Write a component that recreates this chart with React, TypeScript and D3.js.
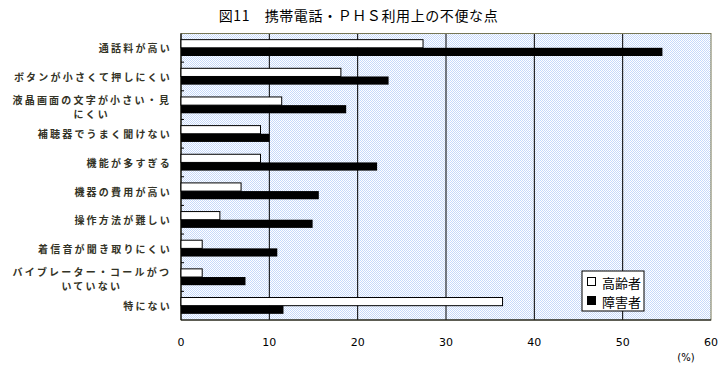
import React from 'react';
import * as d3 from 'd3';

const categories = [
  '通話料が高い',
  'ボタンが小さくて押しにくい',
  '液晶画面の文字が小さい・見\nにくい',
  '補聴器でうまく聞けない',
  '機能が多すぎる',
  '機器の費用が高い',
  '操作方法が難しい',
  '着信音が聞き取りにくい',
  'バイブレーター・コールがつ\nいていない',
  '特にない',
];
const elderly = [27.4, 18.1, 11.4, 9.0, 9.0, 6.8, 4.4, 2.4, 2.4, 36.4];
const disabled = [54.5, 23.5, 18.7, 10.0, 22.2, 15.6, 14.9, 10.9, 7.3, 11.6];
const xTicks = [0, 10, 20, 30, 40, 50, 60];
const seriesNames = ['高齢者', '障害者'];

const W = 720;
const H = 369;
const left = 181;
const right = 711;
const top = 33.5;
const bottom = 320;

const labelFont = '"Noto Sans CJK JP", sans-serif';
const labelSize = 10;
const labelSpacing = 2.2;

const App: React.FC = () => {
  const x = d3.scaleLinear().domain([0, 60]).range([left, right]);
  const y = d3.scaleBand<number>()
    .domain(d3.range(categories.length))
    .range([top, bottom])
    .paddingInner(0.43)
    .paddingOuter(0.215);
  const step = y.step();
  const barH = y.bandwidth() / 2;

  return (
    <svg width={W} height={H} style={{ position: 'absolute', left: 0, top: 0, background: '#fff' }}>
      <defs>
        <pattern id="dots" width={2} height={2} patternUnits="userSpaceOnUse">
          <rect width={2} height={2} fill="#fff" />
          <rect x={0} y={0} width={1} height={1} fill="#c6d9fa" />
          <rect x={1} y={1} width={1} height={1} fill="#c6d9fa" />
        </pattern>
      </defs>

      <text x={358.5} y={21} textAnchor="middle" fontFamily={labelFont} fontSize={14} letterSpacing={0.6} fill="#000">
        図11　携帯電話・ＰＨＳ利用上の不便な点
      </text>

      <rect x={left} y={top} width={right - left} height={bottom - top} fill="url(#dots)" />

      {xTicks.slice(1, -1).map(t => (
        <line key={t} x1={x(t)} x2={x(t)} y1={top} y2={bottom} stroke="#000" strokeWidth={1} />
      ))}

      <rect x={left} y={top} width={right - left} height={bottom - top} fill="none" stroke="#777755" strokeWidth={1} />
      <line x1={left} x2={left} y1={top} y2={bottom} stroke="#000" strokeWidth={1.2} />
      <line x1={left} x2={right} y1={bottom} y2={bottom} stroke="#000" strokeWidth={1} />

      {d3.range(1, categories.length).map(i => (
        <line key={i} x1={left} x2={left + 3} y1={top + i * step} y2={top + i * step} stroke="#000" />
      ))}

      {categories.map((c, i) => {
        const y0 = y(i) as number;
        return (
          <g key={c}>
            <rect x={x(0)} y={y0} width={x(elderly[i]) - x(0)} height={barH} fill="#fff" stroke="#000" strokeWidth={1} />
            <rect x={x(0)} y={y0 + barH} width={x(disabled[i]) - x(0)} height={barH} fill="#000" />
          </g>
        );
      })}

      {categories.map((c, i) => {
        const cy = top + (i + 0.5) * step;
        const lines = c.split('\n');
        const common = {
          fontFamily: labelFont,
          fontSize: labelSize,
          fontWeight: 700,
          letterSpacing: labelSpacing,
          fill: '#333326',
          dominantBaseline: 'central' as const,
        };
        if (lines.length === 1) {
          return (
            <text key={c} x={172} y={cy} textAnchor="end" {...common}>{c}</text>
          );
        }
        const maxLen = d3.max(lines, l => l.length) as number;
        const cx = 170 - (maxLen * (labelSize + labelSpacing)) / 2;
        return (
          <g key={c}>
            {lines.map((l, j) => (
              <text key={j} x={cx + labelSpacing / 2} y={cy - 6 + j * 14.6} textAnchor="middle" {...common}>{l}</text>
            ))}
          </g>
        );
      })}

      {xTicks.map(t => (
        <text key={t} x={x(t)} y={346} textAnchor="middle" fontFamily='"DejaVu Sans", sans-serif' fontSize={11} fill="#000">
          {t}
        </text>
      ))}
      <text x={686} y={361} textAnchor="middle" fontFamily='"DejaVu Sans", sans-serif' fontSize={10} fill="#000">(%)</text>

      <g>
        <rect x={582} y={271} width={62} height={40} fill="#fff" stroke="#000" strokeWidth={1} />
        {seriesNames.map((s, i) => (
          <g key={s}>
            <rect x={587.5} y={277.5 + i * 19} width={8} height={8} fill={i === 0 ? '#fff' : '#000'} stroke="#000" strokeWidth={1} />
            <text x={602} y={282 + i * 19} dominantBaseline="central" fontFamily={labelFont} fontSize={13} fill="#000">{s}</text>
          </g>
        ))}
      </g>
    </svg>
  );
};

export default App;
